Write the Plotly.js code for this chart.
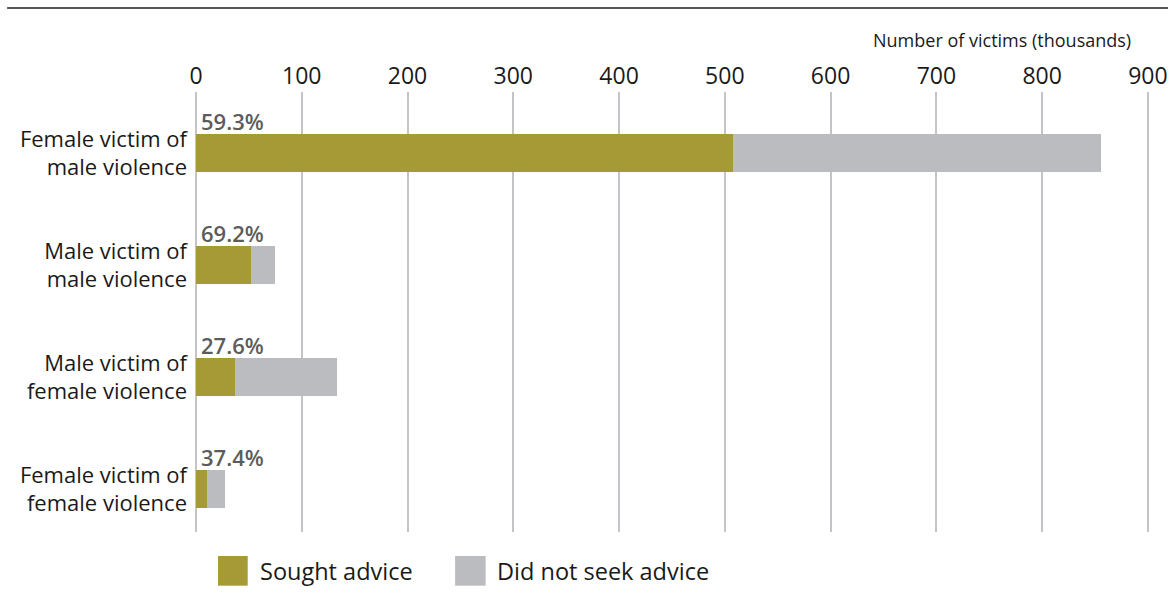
<!DOCTYPE html>
<html>
<head>
<meta charset="utf-8">
<script src="https://cdn.plot.ly/plotly-3.0.1.min.js"></script>
<style>
html,body{margin:0;padding:0;background:#fff;}
#chart{width:1168px;height:598px;}
</style>
</head>
<body>
<div id="chart"></div>
<script>
// Data (thousands of victims)
const categories = [
  "Female victim of<br>male violence",
  "Male victim of<br>male violence",
  "Male victim of<br>female violence",
  "Female victim of<br>female violence"
];
const soughtAdvice = [508, 52, 37, 10.4];
const didNotSeekAdvice = [348, 23, 96, 17.4];
const percentLabels = ["59.3%", "69.2%", "27.6%", "37.4%"];
const tickValues = [0, 100, 200, 300, 400, 500, 600, 700, 800, 900];
const seriesNames = ["Sought advice", "Did not seek advice"];

const olive = "#A59A36";
const grey = "#BBBCBF";
const font = "'Open Sans', Lato, sans-serif";

const traces = [
  {type: "bar", orientation: "h", name: seriesNames[0], y: categories, x: soughtAdvice,
   marker: {color: olive}, width: 0.34, hoverinfo: "x+name"},
  {type: "bar", orientation: "h", name: seriesNames[1], y: categories, x: didNotSeekAdvice,
   marker: {color: grey}, width: 0.34, hoverinfo: "x+name"}
];

const annotations = percentLabels.map((t, i) => ({
  x: 0, y: categories[i], xref: "x", yref: "y",
  text: t, showarrow: false,
  xanchor: "left", yanchor: "bottom", xshift: 3, yshift: 15,
  font: {family: font, size: 22, color: "#5c5c5c", weight: 600}
}));

annotations.push({
  xref: "paper", yref: "paper", x: 0.982, y: 1.0, yshift: 52,
  xanchor: "right", yanchor: "middle", showarrow: false,
  text: "Number of victims (thousands)",
  font: {family: font, size: 18, color: "#1a1a1a"}
});
// Legend labels
annotations.push({
  xref: "paper", yref: "paper", x: 0.0651, y: -0.0886,
  xanchor: "left", yanchor: "middle", showarrow: false,
  text: seriesNames[0], font: {family: font, size: 23.5, color: "#1a1a1a"}
});
annotations.push({
  xref: "paper", yref: "paper", x: 0.313, y: -0.0886,
  xanchor: "left", yanchor: "middle", showarrow: false,
  text: seriesNames[1], font: {family: font, size: 23.5, color: "#1a1a1a"}
});

const shapes = [
  // top rule at ~8px from top (plot top 92px, plot height 440px)
  {type: "line", xref: "paper", yref: "paper", x0: -0.198, x1: 1.025,
   y0: 1 + 84 / 440, y1: 1 + 84 / 440, line: {color: "#555555", width: 2}},
  // legend swatches
  {type: "rect", xref: "paper", yref: "paper", x0: 0.0231, x1: 0.0542, y0: -0.0545, y1: -0.122,
   fillcolor: olive, line: {width: 0}},
  {type: "rect", xref: "paper", yref: "paper", x0: 0.2716, x1: 0.3036, y0: -0.0545, y1: -0.122,
   fillcolor: grey, line: {width: 0}}
];

const layout = {
  width: 1168, height: 598,
  margin: {l: 196, r: 18, t: 92, b: 66},
  paper_bgcolor: "#fff", plot_bgcolor: "#fff",
  barmode: "stack",
  showlegend: false,
  font: {family: font, color: "#1a1a1a"},
  xaxis: {
    side: "top", range: [0, 902], tickvals: tickValues, ticktext: tickValues.map(String),
    showgrid: true, gridcolor: "#C4C4C8", gridwidth: 2,
    zeroline: true, zerolinecolor: "#C4C4C8", zerolinewidth: 2,
    showline: false, ticks: "", ticklabelstandoff: 2,
    tickfont: {family: font, size: 23, color: "#1a1a1a"}
  },
  yaxis: {
    type: "category", range: [3.38, -0.545],
    showgrid: false, zeroline: false, showline: false, ticks: "",
    ticklabelstandoff: 8,
    tickfont: {family: font, size: 22, color: "#1a1a1a"}
  },
  annotations: annotations,
  shapes: shapes
};

Plotly.newPlot("chart", traces, layout, {displayModeBar: false, staticPlot: true});
</script>
</body>
</html>
